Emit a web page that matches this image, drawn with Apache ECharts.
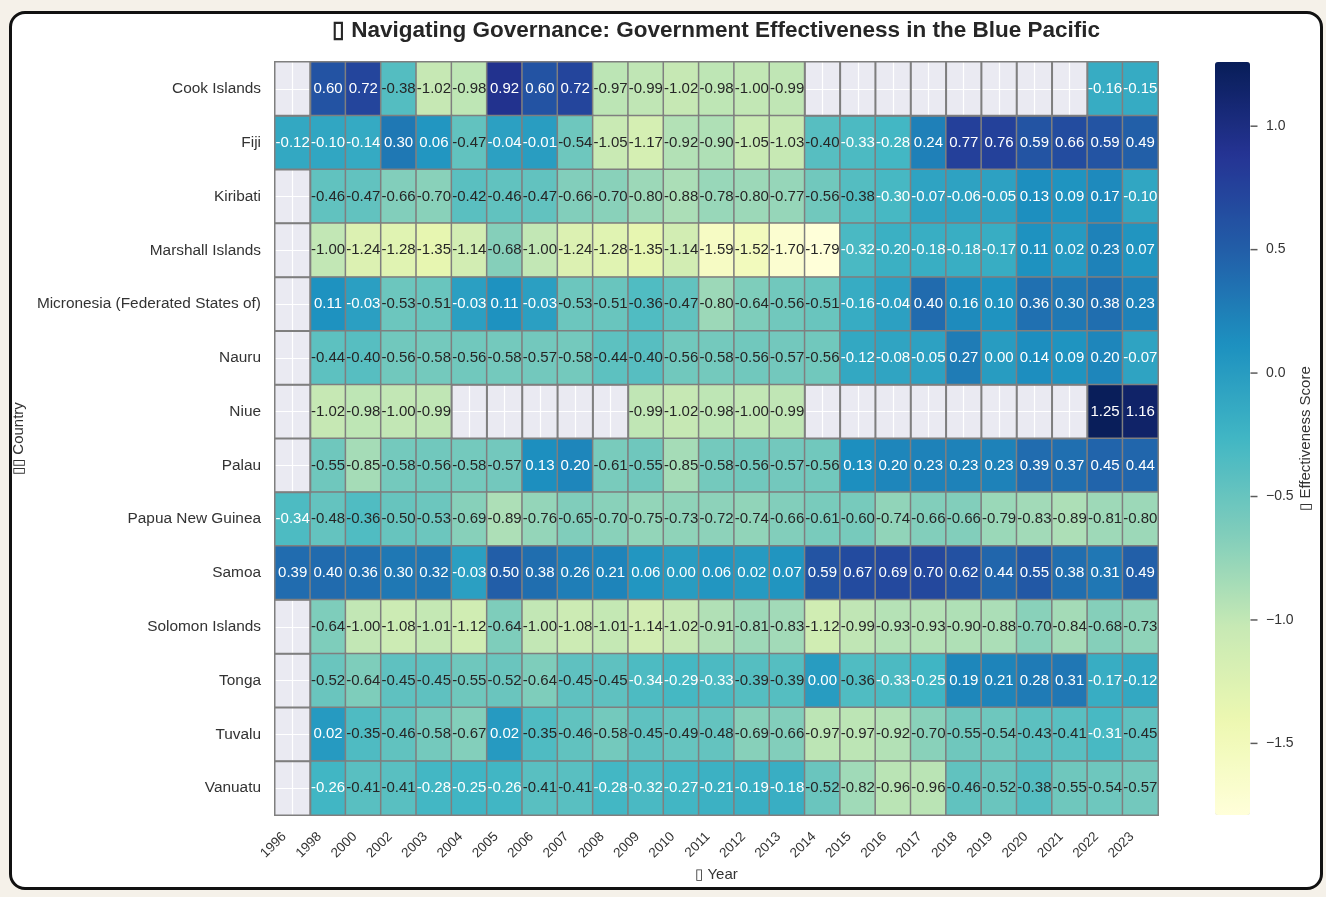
<!DOCTYPE html>
<html>
<head>
<meta charset="utf-8">
<script src="https://cdn.jsdelivr.net/npm/echarts@6/dist/echarts.min.js"></script>
<style>
  html, body { margin: 0; padding: 0; background: #f5f1e9; }
  #frame { position: absolute; left: 9px; top: 11px; width: 1308px; height: 873px;
           border: 3px solid #111; border-radius: 16px; background: #fff; }
  #chart { position: absolute; left: 0; top: 0; width: 1326px; height: 897px; }
</style>
</head>
<body>
<div id="frame"></div>
<div id="chart"></div>
<script>
// years on the x axis
const years = ['1996', '1998', '2000', '2002', '2003', '2004', '2005', '2006', '2007', '2008',
  '2009', '2010', '2011', '2012', '2013', '2014', '2015', '2016', '2017', '2018',
  '2019', '2020', '2021', '2022', '2023'];

const countries = ['Cook Islands', 'Fiji', 'Kiribati', 'Marshall Islands',
  'Micronesia (Federated States of)', 'Nauru', 'Niue', 'Palau', 'Papua New Guinea',
  'Samoa', 'Solomon Islands', 'Tonga', 'Tuvalu', 'Vanuatu'];

// one row per country, null = no data
const cookIslands = [null, 0.60, 0.72, -0.38, -1.02, -0.98, 0.92, 0.60, 0.72, -0.97, -0.99, -1.02, -0.98, -1.00, -0.99,
  null, null, null, null, null, null, null, null, -0.16, -0.15];
const fiji = [-0.12, -0.10, -0.14, 0.30, 0.06, -0.47, -0.04, -0.01, -0.54, -1.05, -1.17, -0.92, -0.90, -1.05, -1.03,
  -0.40, -0.33, -0.28, 0.24, 0.77, 0.76, 0.59, 0.66, 0.59, 0.49];
const kiribati = [null, -0.46, -0.47, -0.66, -0.70, -0.42, -0.46, -0.47, -0.66, -0.70, -0.80, -0.88, -0.78, -0.80, -0.77,
  -0.56, -0.38, -0.30, -0.07, -0.06, -0.05, 0.13, 0.09, 0.17, -0.10];
const marshallIslands = [null, -1.00, -1.24, -1.28, -1.35, -1.14, -0.68, -1.00, -1.24, -1.28, -1.35, -1.14, -1.59, -1.52, -1.70,
  -1.79, -0.32, -0.20, -0.18, -0.18, -0.17, 0.11, 0.02, 0.23, 0.07];
const micronesia = [null, 0.11, -0.03, -0.53, -0.51, -0.03, 0.11, -0.03, -0.53, -0.51, -0.36, -0.47, -0.80, -0.64, -0.56,
  -0.51, -0.16, -0.04, 0.40, 0.16, 0.10, 0.36, 0.30, 0.38, 0.23];
const nauru = [null, -0.44, -0.40, -0.56, -0.58, -0.56, -0.58, -0.57, -0.58, -0.44, -0.40, -0.56, -0.58, -0.56, -0.57,
  -0.56, -0.12, -0.08, -0.05, 0.27, 0.00, 0.14, 0.09, 0.20, -0.07];
const niue = [null, -1.02, -0.98, -1.00, -0.99, null, null, null, null, null, -0.99, -1.02, -0.98, -1.00, -0.99,
  null, null, null, null, null, null, null, null, 1.25, 1.16];
const palau = [null, -0.55, -0.85, -0.58, -0.56, -0.58, -0.57, 0.13, 0.20, -0.61, -0.55, -0.85, -0.58, -0.56, -0.57,
  -0.56, 0.13, 0.20, 0.23, 0.23, 0.23, 0.39, 0.37, 0.45, 0.44];
const papuaNewGuinea = [-0.34, -0.48, -0.36, -0.50, -0.53, -0.69, -0.89, -0.76, -0.65, -0.70, -0.75, -0.73, -0.72, -0.74, -0.66,
  -0.61, -0.60, -0.74, -0.66, -0.66, -0.79, -0.83, -0.89, -0.81, -0.80];
const samoa = [0.39, 0.40, 0.36, 0.30, 0.32, -0.03, 0.50, 0.38, 0.26, 0.21, 0.06, 0.00, 0.06, 0.02, 0.07,
  0.59, 0.67, 0.69, 0.70, 0.62, 0.44, 0.55, 0.38, 0.31, 0.49];
const solomonIslands = [null, -0.64, -1.00, -1.08, -1.01, -1.12, -0.64, -1.00, -1.08, -1.01, -1.14, -1.02, -0.91, -0.81, -0.83,
  -1.12, -0.99, -0.93, -0.93, -0.90, -0.88, -0.70, -0.84, -0.68, -0.73];
const tonga = [null, -0.52, -0.64, -0.45, -0.45, -0.55, -0.52, -0.64, -0.45, -0.45, -0.34, -0.29, -0.33, -0.39, -0.39,
  0.00, -0.36, -0.33, -0.25, 0.19, 0.21, 0.28, 0.31, -0.17, -0.12];
const tuvalu = [null, 0.02, -0.35, -0.46, -0.58, -0.67, 0.02, -0.35, -0.46, -0.58, -0.45, -0.49, -0.48, -0.69, -0.66,
  -0.97, -0.97, -0.92, -0.70, -0.55, -0.54, -0.43, -0.41, -0.31, -0.45];
const vanuatu = [null, -0.26, -0.41, -0.41, -0.28, -0.25, -0.26, -0.41, -0.41, -0.28, -0.32, -0.27, -0.21, -0.19, -0.18,
  -0.52, -0.82, -0.96, -0.96, -0.46, -0.52, -0.38, -0.55, -0.54, -0.57];

// colorbar ticks
const barTicks = [-1.5, -1.0, -0.5, 0.0, 0.5, 1.0];

const rows = [cookIslands, fiji, kiribati, marshallIslands, micronesia, nauru, niue, palau,
  papuaNewGuinea, samoa, solomonIslands, tonga, tuvalu, vanuatu];

const ylgnbu = ['#ffffd9', '#edf8b1', '#c7e9b4', '#7fcdbb', '#41b6c4', '#1d91c0', '#225ea8', '#253494', '#081d58'];
const font = '"Liberation Sans", Arial, sans-serif';
const txt = '#333333';
const vMin = -1.79, vMax = 1.26;

let cells = [], blanks = [];
rows.forEach((vals, r) => {
  vals.forEach((v, c) => {
    if (v === null) {
      blanks.push([c, r, 0]);
    } else {
      // light text on the darker cells, like seaborn's annot
      cells.push({ value: [c, r, v], label: { color: v > -0.345 ? '#ffffff' : '#262626' } });
    }
  });
});

let chart = echarts.init(document.getElementById('chart'));
let option = {
  animation: false,
  textStyle: { fontFamily: font },
  title: {
    text: '\u25AF Navigating Governance: Government Effectiveness in the Blue Pacific',
    left: 711, top: 14, textAlign: 'center',
    textStyle: { fontFamily: font, fontSize: 22.5, fontWeight: 'bold', color: '#262626' }
  },
  grid: [
    { left: 275, right: 168, top: 62, bottom: 82, show: true, backgroundColor: '#eaeaf2', borderWidth: 0 },
    { left: 1215, width: 35, top: 62, height: 753, show: false }
  ],
  xAxis: [
    {
      type: 'category', data: years, gridIndex: 0,
      axisLine: { show: false }, axisTick: { show: false },
      axisLabel: { rotate: 45, fontSize: 13.5, color: txt, margin: 11, interval: 0, padding: [0, 12, 0, 0] },
      splitLine: { show: true, interval: 0, alignWithLabel: true, lineStyle: { color: '#ffffff', width: 1.2 } },
      name: '\u25AF Year', nameLocation: 'middle', nameGap: 51,
      nameTextStyle: { fontSize: 15, color: txt }
    },
    { type: 'value', gridIndex: 1, show: false, min: 0, max: 1 }
  ],
  yAxis: [
    {
      type: 'category', data: countries, inverse: true, gridIndex: 0,
      axisLine: { show: false }, axisTick: { show: false },
      axisLabel: { fontSize: 15.4, color: txt, margin: 14, interval: 0 },
      splitLine: { show: true, interval: 0, alignWithLabel: true, lineStyle: { color: '#ffffff', width: 1.2 } },
      name: '\u25AF\u25AF Country', nameLocation: 'middle', nameGap: 241, nameRotate: 90,
      nameTextStyle: { fontSize: 15, color: txt }
    },
    {
      type: 'value', gridIndex: 1, position: 'right', min: vMin, max: vMax,
      axisLine: { show: false }, axisTick: { show: false },
      axisLabel: {
        customValues: barTicks, fontSize: 14, color: txt, margin: 16,
        formatter: v => v.toFixed(1).replace('-', '\u2212')
      },
      splitLine: { show: false },
      name: '\u25AF Effectiveness Score', nameLocation: 'middle', nameRotate: 90, nameGap: 48,
      nameTextStyle: { fontSize: 15, color: txt }
    }
  ],
  visualMap: [
    {
      type: 'continuous', seriesIndex: 0, min: vMin, max: vMax, orient: 'vertical',
      left: 1215, top: 62, itemWidth: 35, itemHeight: 753, padding: 0,
      calculable: false, hoverLink: false, text: null,
      inRange: { color: ylgnbu }
    },
    {
      type: 'continuous', seriesIndex: 1, show: false, min: 0, max: 1,
      inRange: { color: ['rgba(0,0,0,0)', 'rgba(0,0,0,0)'] }
    }
  ],
  series: [
    {
      type: 'heatmap', data: cells,
      label: { show: true, fontSize: 15, fontFamily: font, formatter: p => p.value[2].toFixed(2) },
      itemStyle: { borderColor: '#7f7f7f', borderWidth: 1.5 }
    },
    {
      type: 'heatmap', data: blanks, silent: true,
      itemStyle: { borderColor: '#7f7f7f', borderWidth: 1.5 }
    },
    {
      // colorbar tick marks
      type: 'scatter', xAxisIndex: 1, yAxisIndex: 1, silent: true,
      data: barTicks.map(t => [1, t]),
      symbol: 'rect', symbolSize: [7, 1.5], symbolOffset: [4, 0],
      itemStyle: { color: txt }
    }
  ]
};
chart.setOption(option);
</script>
</body>
</html>
